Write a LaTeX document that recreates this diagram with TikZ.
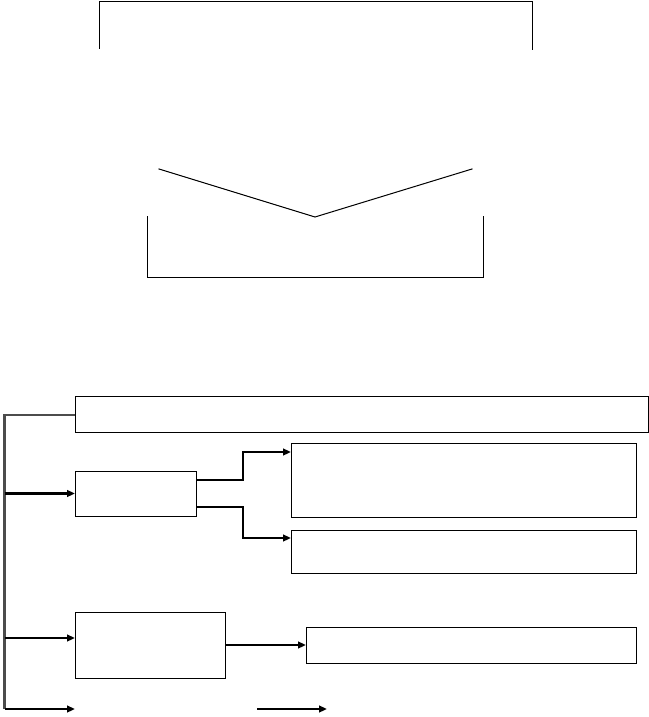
\documentclass[tikz,border=0pt]{standalone}
\usetikzlibrary{arrows.meta,calc}
\begin{document}
\begin{tikzpicture}[x=0.75pt,y=-0.75pt,
  box/.style={draw=black,line width=0.75pt,inner sep=0pt,outer sep=0pt,rectangle},
  thin/.style={line width=0.75pt,line cap=rect},
  arr/.style={line width=1.6pt,-{Triangle[length=6pt,width=5pt]}},
  bus/.style={line width=1.6pt,draw=black!70}]
\useasboundingbox (0,0) rectangle (649,717);
% top bracket
\coordinate (t1) at (99,49);
\coordinate (t2) at (99,1.5);
\coordinate (t3) at (532,1.5);
\coordinate (t4) at (532,50);
\draw[thin] (t1) -- (t2) -- (t3) -- (t4);
% V shape
\coordinate (v1) at (159,169);
\coordinate (v2) at (315,217);
\coordinate (v3) at (472,169);
\draw[thin] (v1) -- (v2) -- (v3);
% middle bracket
\coordinate (m1) at (147,216);
\coordinate (m2) at (147,277);
\coordinate (m3) at (483,277);
\coordinate (m4) at (483,216);
\draw[thin] (m1) -- (m2) -- (m3) -- (m4);
% boxes
\node[box,minimum width=429.75pt,minimum height=27pt] (A) at (361.5,414) {};
\node[box,minimum width=90.75pt,minimum height=33.75pt] (B) at (135.5,493.5) {};
\node[box,minimum width=258.75pt,minimum height=55.5pt] (C) at (463.5,480) {};
\node[box,minimum width=258.75pt,minimum height=32.25pt] (D) at (463.5,551.5) {};
\node[box,minimum width=112.5pt,minimum height=49.5pt] (E) at (150,645) {};
\node[box,minimum width=247.5pt,minimum height=27pt] (F) at (471,645) {};
% bus
\coordinate (bt) at (4.5,415);
\coordinate (bb) at (4.5,709);
\draw[bus] (A.west |- bt) -- (bt) -- (bb);
% arrows from bus
\draw[arr] (bt |- B.west) -- (B.west);
\coordinate (e1) at ($(E.west)+(0,-7)$);
\draw[arr] (bt |- e1) -- (e1);
\coordinate (g1) at (75,709);
\draw[arr] (bb) -- (g1);
\coordinate (h1) at (257,709);
\coordinate (h2) at (327,709);
\draw[arr] (h1) -- (h2);
% B to C and D
\coordinate (b1) at ($(B.north east)+(0,9)$);
\coordinate (b2) at ($(B.south east)+(0,-9)$);
\coordinate (c1) at ($(C.north west)+(0,9)$);
\coordinate (d1) at ($(D.north west)+(0,8)$);
\draw[arr] (b1) -- (243,480) |- (c1);
\draw[arr] (b2) -- (243,507) |- (d1);
% E to F
\draw[arr] (E.east |- F.west) -- (F.west);
\end{tikzpicture}
\end{document}
